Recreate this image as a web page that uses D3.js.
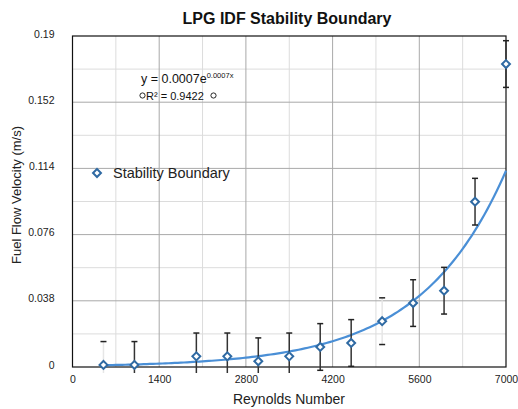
<!DOCTYPE html>
<html><head><meta charset="utf-8">
<script src="https://cdn.jsdelivr.net/npm/d3@7"></script>
<style>body{margin:0;background:#fff;} svg{display:block;font-family:"Liberation Sans",Arial,Helvetica,sans-serif;}</style>
</head><body>
<svg id="c" width="518" height="409"></svg>
<script>
const reynolds = [500,1000,2000,2500,3000,3500,4000,4500,5000,5500,6000,6500,7000];
const velocity = [0.0012,0.0012,0.0061,0.0061,0.0033,0.0061,0.0115,0.0138,0.0263,0.0367,0.0438,0.0949,0.1739];
const errorAmount = 0.0134;
const xTicks = [0,1400,2800,4200,5600,7000];
const yTicks = [0,0.038,0.076,0.114,0.152,0.19];
const xMinor = [700,2100,3500,4900,6300];
const yMinor = [0.019,0.057,0.095,0.133,0.171];
const faintBars = [500,5000];

const svg = d3.select("#c");
const L=72.5,R=506,T=36,B=367;
const x = d3.scaleLinear().domain([0,7000]).range([L,R]);
const y = d3.scaleLinear().domain([0,0.19]).range([B,T]);

// title
svg.append("text").attr("x",287).attr("y",24).attr("text-anchor","middle")
  .attr("font-size",16).attr("font-weight","bold").attr("fill","#111").text("LPG IDF Stability Boundary");

// grid
const g = svg.append("g");
g.selectAll(".vmin").data(xMinor).enter().append("line")
  .attr("x1",d=>x(d)).attr("x2",d=>x(d)).attr("y1",T).attr("y2",B).attr("stroke","#dcdcdc");
g.selectAll(".hmin").data(yMinor).enter().append("line")
  .attr("y1",d=>y(d)).attr("y2",d=>y(d)).attr("x1",L).attr("x2",R).attr("stroke","#dcdcdc");
g.selectAll(".vmaj").data(xTicks.slice(1,-1)).enter().append("line")
  .attr("x1",d=>x(d)).attr("x2",d=>x(d)).attr("y1",T).attr("y2",B).attr("stroke","#a9a9a9");
g.selectAll(".hmaj").data(yTicks.slice(1,-1)).enter().append("line")
  .attr("y1",d=>y(d)).attr("y2",d=>y(d)).attr("x1",L).attr("x2",R).attr("stroke","#a9a9a9");

// axes
const xAxis = d3.axisBottom(x).tickValues(xTicks).tickSize(0).tickPadding(9).tickFormat(d3.format("d"));
const yAxis = d3.axisLeft(y).tickValues(yTicks).tickSize(0).tickPadding(18).tickFormat(d=>d===0?"0":String(d));
const xa = svg.append("g").attr("transform",`translate(0,${B})`).call(xAxis);
const ya = svg.append("g").attr("transform",`translate(${L},0)`).call(yAxis);
[xa,ya].forEach(a=>{a.select(".domain").remove(); a.selectAll("text").attr("font-size",10.5).attr("fill","#222").attr("font-family","Liberation Sans, Arial, sans-serif");});
ya.selectAll("text").attr("dy","0.1em");

svg.append("rect").attr("x",L).attr("y",T).attr("width",R-L).attr("height",B-T)
  .attr("fill","none").attr("stroke","#111").attr("stroke-width",1.2);

// axis titles
svg.append("text").attr("x",289).attr("y",404).attr("text-anchor","middle")
  .attr("font-size",14).attr("fill","#222").text("Reynolds Number");
svg.append("text").attr("transform","translate(21,195) rotate(-90)").attr("text-anchor","middle")
  .attr("font-size",13).attr("fill","#222").text("Fuel Flow Velocity (m/s)");

// clip for error bars
svg.append("clipPath").attr("id","eb").append("rect").attr("x",0).attr("y",0).attr("width",518).attr("height",B+6);

// trendline: least squares exponential fit (like spreadsheet trendline)
const ly = velocity.map(Math.log);
const mx = d3.mean(reynolds), my = d3.mean(ly);
const b = d3.sum(reynolds.map((v,i)=>(v-mx)*(ly[i]-my)))/d3.sum(reynolds.map(v=>(v-mx)*(v-mx)));
const a = Math.exp(my-b*mx);
const xs = d3.range(500,7001,50);
svg.append("path").datum(xs)
  .attr("d",d3.line().x(d=>x(d)).y(d=>y(a*Math.exp(b*d))))
  .attr("fill","none").attr("stroke","#4a8fd6").attr("stroke-width",2.2);

// error bars
const data = reynolds.map((r,i)=>({r,v:velocity[i]}));
const eb = svg.append("g").attr("clip-path","url(#eb)");
eb.selectAll(".bar").data(data).enter().append("line")
  .attr("x1",d=>x(d.r)).attr("x2",d=>x(d.r))
  .attr("y1",d=>y(d.v+errorAmount)).attr("y2",d=>y(d.v-errorAmount))
  .attr("stroke",d=>faintBars.includes(d.r)?"#e6e6e6":"#333").attr("stroke-width",1.5);
["top","bot"].forEach(k=>{
  eb.selectAll(".cap"+k).data(data).enter().append("line")
    .attr("x1",d=>x(d.r)-3).attr("x2",d=>x(d.r)+3)
    .attr("y1",d=>y(k==="top"?d.v+errorAmount:d.v-errorAmount))
    .attr("y2",d=>y(k==="top"?d.v+errorAmount:d.v-errorAmount))
    .attr("stroke","#222").attr("stroke-width",1.5);
});

// markers
const diamond = d3.symbol().type(d3.symbolDiamond2).size(40);
svg.selectAll(".pt").data(data).enter().append("path")
  .attr("d",diamond).attr("transform",d=>`translate(${x(d.r)},${y(d.v)})`)
  .attr("fill","#fff").attr("stroke","#2f6aa3").attr("stroke-width",2);

// equation
const eq = svg.append("text").attr("x",141).attr("y",83).attr("font-size",12.5).attr("fill","#111");
eq.append("tspan").text("y = 0.0007e");
eq.append("tspan").attr("dy",-5).attr("font-size",7.5).text("0.0007x");
svg.append("text").attr("x",146).attr("y",99.5).attr("font-size",11).attr("fill","#111").text("R² = 0.9422");
[142.5,213.5].forEach(cx=>svg.append("circle").attr("cx",cx).attr("cy",95.5).attr("r",2.6)
  .attr("fill","#fff").attr("stroke","#111").attr("stroke-width",0.9));

// legend
svg.append("path").attr("d",diamond).attr("transform","translate(97,173)")
  .attr("fill","#fff").attr("stroke","#2f6aa3").attr("stroke-width",2);
svg.append("text").attr("x",113).attr("y",178).attr("font-size",14.5).attr("fill","#222").text("Stability Boundary");
</script>
</body></html>
